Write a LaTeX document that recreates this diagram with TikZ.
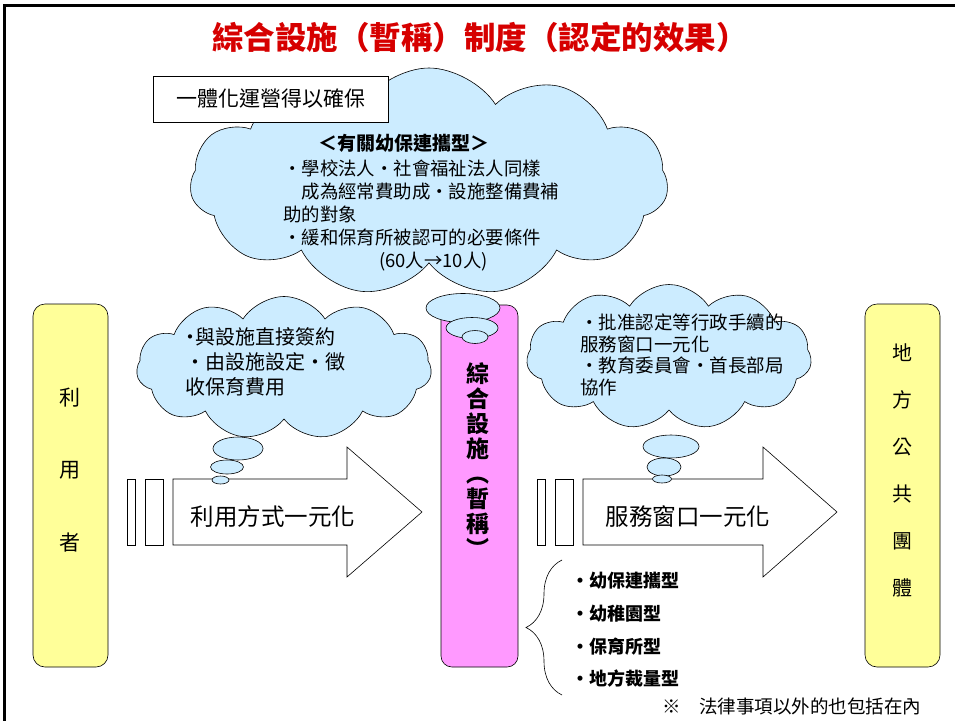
\documentclass[tikz,border=0pt]{standalone}
\usepackage{fontspec}
\setmainfont{Noto Sans CJK TC}
\usetikzlibrary{shapes.symbols, shapes.geometric, decorations.pathreplacing, positioning}
\definecolor{skyfill}{RGB}{204,236,255}
\definecolor{pinkfill}{RGB}{255,153,255}
\definecolor{lemonfill}{RGB}{255,255,153}
\definecolor{titlered}{RGB}{214,0,0}
\newcommand{\fsz}[2]{\fontsize{#1}{#2}\selectfont}
\tikzset{
  thought/.style={cloud, cloud puffs=11, cloud puff arc=115, cloud ignores aspect,
                  draw, fill=skyfill, inner sep=0pt},
  bubble/.style={ellipse, draw, fill=skyfill, inner sep=0pt},
  sidebox/.style={draw, fill=lemonfill, rounded corners=12pt,
                  minimum width=75pt, minimum height=363pt},
  pillarbox/.style={draw, fill=pinkfill, rounded corners=11pt,
                    minimum width=77pt, minimum height=362pt},
  words/.style={anchor=west, align=left, inner sep=0pt},
  stack/.style={align=center, inner sep=0pt},
}

\begin{document}
\begin{tikzpicture}[x=1pt, y=-1pt, line width=0.6pt]
		\useasboundingbox (0,0) rectangle (955,720);
		\draw[line width=2.5pt] (4.5,5.5) rectangle (990,750);
		
		\node[font=\bfseries\fsz{31.5}{31.5}, text=titlered] (title) at (480,37) {綜合設施（暫稱）制度（認定的效果）};
		
		% clouds
		\node[thought, minimum width=478pt, minimum height=228pt] (bigcloud) at (429,182) {};
		\node[draw, fill=white, minimum width=235pt, minimum height=46pt, font=\fsz{21}{21}] (unify) at (270.5,99) {一體化運營得以確保};
		\node[thought, minimum width=295pt, minimum height=143pt] (leftcloud) at (284,368) {};
		\node[thought, minimum width=285pt, minimum height=145pt] (rightcloud) at (669,357) {};
		
		% side boxes and pillar
		\node[sidebox] (user) at (70.5,485.5) {};
		\node[sidebox] (local) at (902.5,485.5) {};
		\node[pillarbox] (pillar) at (479.5,486) {};
		\node[bubble, minimum width=74pt, minimum height=29pt] (ptail1) at (463,308) {};
		\node[bubble, minimum width=52pt, minimum height=21pt] (ptail2) at (472,328) {};
		\node[bubble, minimum width=26pt, minimum height=13pt] (ptail3) at (475,337) {};
		
		% arrows
		\draw[fill=white] (127,479) rectangle (135,545);
		\draw[fill=white] (145,479) rectangle (163,545);
		\draw[fill=white] (173,479) -- (347,479) -- (347,447) -- (422,512) -- (347,577) -- (347,545) -- (173,545) -- cycle;
		\draw[fill=white] (537,479) rectangle (545,545);
		\draw[fill=white] (555,479) rectangle (573,545);
		\draw[fill=white] (583,479) -- (763,479) -- (763,447) -- (837,512) -- (763,577) -- (763,545) -- (583,545) -- cycle;
		
		\node[bubble, minimum width=50pt, minimum height=23pt] (ltail1) at (238,448.5) {};
		\node[bubble, minimum width=33pt, minimum height=14pt] (ltail2) at (227,467) {};
		\node[bubble, minimum width=17pt, minimum height=8pt] (ltail3) at (220.5,480) {};
		\node[bubble, minimum width=56pt, minimum height=23pt] (rtail1) at (671,446.5) {};
		\node[bubble, minimum width=34pt, minimum height=18pt] (rtail2) at (664,467) {};
		\node[bubble, minimum width=19pt, minimum height=8pt] (rtail3) at (662,479) {};
		
		% texts
		\node[font=\bfseries\fsz{19}{19}] (kindhead) at (404,143) {＜有關幼保連攜型＞};
		\node[words, font=\fsz{18.4}{23}] (kindbody) at (283,216) {・學校法人・社會福祉法人同樣\\　成為經常費助成・設施整備費補\\助的對象\\・緩和保育所被認可的必要條件\\\hspace{96pt}(60人→10人)};
		\node[words, font=\fsz{20}{25}] (directtext) at (185,362) {\makebox[10pt][c]{·}與設施直接簽約\\・由設施設定・徵\\收保育費用};
		\node[words, font=\fsz{18.5}{21.5}] (windowtext) at (580,355) {・批准認定等行政手續的\\服務窗口一元化\\・教育委員會・首長部局\\協作};
		\node[font=\fsz{23.5}{23.5}] (usearrow) at (273,517) {利用方式一元化};
		\node[font=\fsz{23.5}{23.5}] (svcarrow) at (688,517) {服務窗口一元化};
		\node[stack, font=\bfseries\fsz{23}{25}] (pillartext) at (478,460) {綜\\合\\設\\施\\︵\\暫\\稱\\︶};
		\node[stack, font=\fsz{21}{72.5}] (usertext) at (70,470) {利\\用\\者};
		\node[stack, font=\fsz{20}{47}] (localtext) at (902,470.5) {地\\方\\公\\共\\團\\體};
		
		% kinds
		\coordinate (bracetop) at (562,560);
		\coordinate (bracebot) at (562,695);
		\draw[decorate, decoration={brace, amplitude=36pt}] (bracebot) -- (bracetop);
		\node[words, font=\bfseries\fsz{18}{32.7}] (types) at (571,630) {・幼保連攜型\\・幼稚園型\\・保育所型\\・地方裁量型};
		\node[words, font=\fsz{18.5}{18.5}] (note) at (662,706) {※　法律事項以外的也包括在內};
		\end{tikzpicture}
\end{document}
